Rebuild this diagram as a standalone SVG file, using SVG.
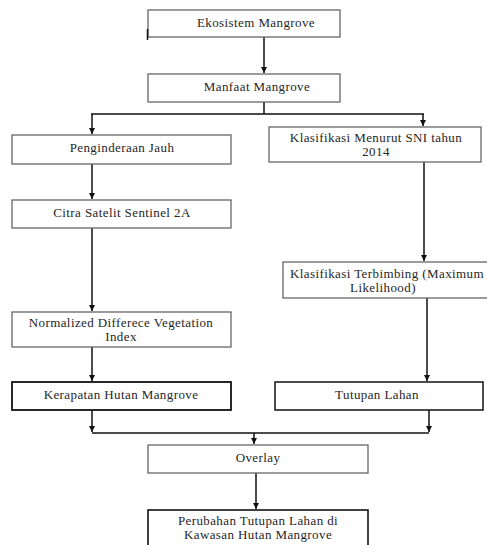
<svg xmlns="http://www.w3.org/2000/svg" width="487" height="545" viewBox="0 0 487 545">
<style>
.box{fill:#fff;stroke:#666;stroke-width:1.3}
.dark{stroke:#111;stroke-width:1.8}
.t{font-family:"Liberation Serif","Times New Roman",serif;font-size:13px;fill:#262626;text-anchor:middle;letter-spacing:0.4px}
.c{fill:none;stroke:#111;stroke-width:1.5}
</style>
<defs>
<marker id="ah" markerUnits="userSpaceOnUse" markerWidth="7" markerHeight="7" refX="6" refY="3.5" orient="auto">
<path d="M0,0.5 L6,3.5 L0,6.5 z" fill="#111"/>
</marker>
</defs>
<rect width="487" height="545" fill="#fff"/>
<g id="connectors">
<line class="c" x1="264" y1="37" x2="264" y2="73" marker-end="url(#ah)"/>
<polyline class="c" points="264,102 264,114"/>
<line class="c" x1="91" y1="114" x2="424" y2="114"/>
<line class="c" x1="92" y1="114" x2="92" y2="134" marker-end="url(#ah)"/>
<line class="c" x1="423" y1="114" x2="423" y2="126" marker-end="url(#ah)"/>
<line class="c" x1="92" y1="164" x2="92" y2="199" marker-end="url(#ah)"/>
<line class="c" x1="92" y1="228" x2="92" y2="311" marker-end="url(#ah)"/>
<line class="c" x1="92" y1="347" x2="92" y2="381" marker-end="url(#ah)"/>
<line class="c" x1="424" y1="162" x2="424" y2="261" marker-end="url(#ah)"/>
<line class="c" x1="427" y1="298" x2="427" y2="381" marker-end="url(#ah)"/>
<line class="c" x1="92" y1="410" x2="92" y2="432" marker-end="url(#ah)"/>
<line class="c" x1="429" y1="410" x2="429" y2="432" marker-end="url(#ah)"/>
<line class="c" x1="92" y1="433" x2="429" y2="433"/>
<line class="c" x1="254" y1="433" x2="254" y2="444" marker-end="url(#ah)"/>
<line class="c" x1="256" y1="473" x2="256" y2="509" marker-end="url(#ah)"/>
</g>
<g id="ekosistem">
<rect class="box" x="148" y="10" width="192" height="27"/>
<line x1="147.5" y1="29" x2="147.5" y2="40" stroke="#111" stroke-width="1.5"/>
<text class="t" x="256" y="27">Ekosistem Mangrove</text>
</g>
<g id="manfaat">
<rect class="box" x="148" y="74" width="192" height="28"/>
<text class="t" x="257" y="91">Manfaat Mangrove</text>
</g>
<g id="penginderaan">
<rect class="box" x="12" y="135" width="219" height="29"/>
<text class="t" x="122" y="152">Penginderaan Jauh</text>
</g>
<g id="sni">
<rect class="box" x="269" y="127" width="212" height="35"/>
<text class="t" x="376" y="142">Klasifikasi Menurut SNI tahun</text>
<text class="t" x="376" y="156">2014</text>
</g>
<g id="citra">
<rect class="box" x="12" y="200" width="219" height="28"/>
<text class="t" x="122" y="217">Citra Satelit Sentinel 2A</text>
</g>
<g id="ndvi">
<rect class="box" x="12" y="312" width="219" height="35"/>
<text class="t" x="121" y="327">Normalized Differece Vegetation</text>
<text class="t" x="121" y="341">Index</text>
</g>
<g id="terbimbing">
<rect class="box" x="283" y="262" width="208" height="36"/>
<text class="t" x="387" y="278">Klasifikasi Terbimbing (Maximum</text>
<text class="t" x="383" y="292">Likelihood)</text>
</g>
<g id="kerapatan">
<rect class="box dark" x="12" y="382" width="219" height="28"/>
<text class="t" x="121" y="399">Kerapatan Hutan Mangrove</text>
</g>
<g id="tutupan">
<rect class="box dark" x="275" y="382" width="208" height="28" style="stroke-width:1.5"/>
<text class="t" x="377" y="399">Tutupan Lahan</text>
</g>
<g id="overlay">
<rect class="box" x="148" y="445" width="220" height="28"/>
<text class="t" x="258" y="462">Overlay</text>
</g>
<g id="perubahan">
<rect class="box dark" x="148" y="510" width="220" height="45" style="stroke-width:1.6"/>
<text class="t" x="258" y="525">Perubahan Tutupan Lahan di</text>
<text class="t" x="258" y="539">Kawasan Hutan Mangrove</text>
</g>
</svg>
